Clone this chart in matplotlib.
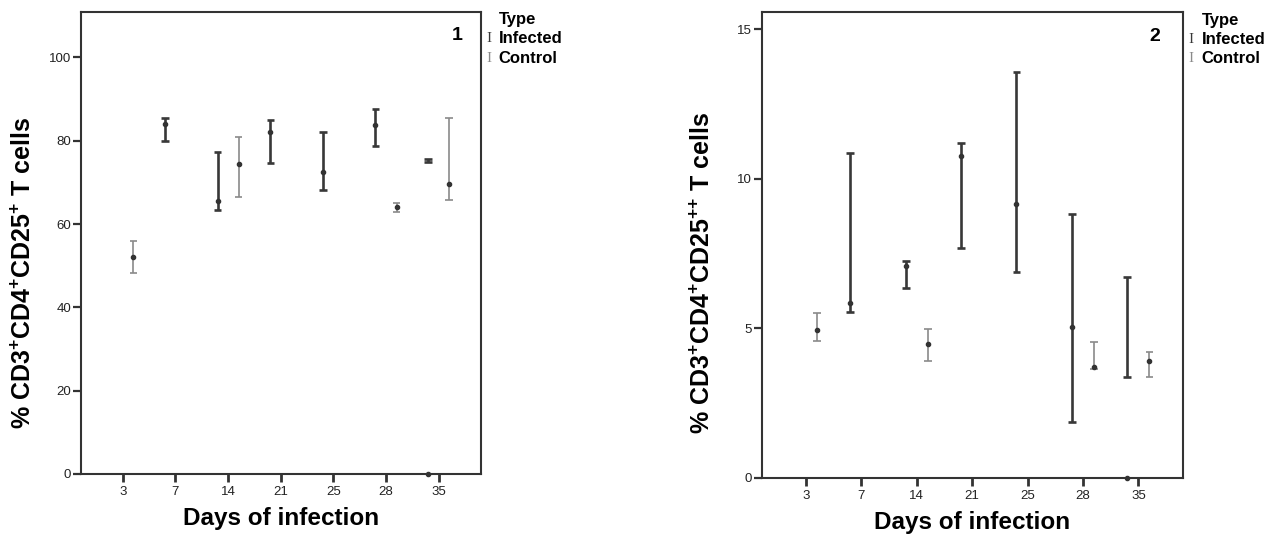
import matplotlib
matplotlib.use("Agg")
import matplotlib.pyplot as plt
import numpy as np

plt.rcParams['mathtext.fontset'] = 'custom'
plt.rcParams['mathtext.rm'] = 'Liberation Sans'
plt.rcParams['mathtext.bf'] = 'Liberation Sans:bold'
plt.rcParams['font.family'] = ['Liberation Sans', 'DejaVu Sans']

days = ['3', '7', '14', '21', '25', '28', '35']

# Panel 1: CD3+CD4+CD25+ (%)  -- None = no group
p1_inf_mean = [None, 84.0, 65.5, 82.0, 72.4, 83.8, 0.0]
p1_inf_low  = [None, 80.0, 63.3, 74.7, 68.1, 78.8, 74.9]
p1_inf_high = [None, 85.5, 77.3, 85.0, 82.1, 87.5, 75.5]
p1_con_mean = [52.2, None, 74.4, None, None, 64.0, 69.6]
p1_con_low  = [48.2, None, 66.4, None, None, 62.8, 65.8]
p1_con_high = [56.0, None, 80.8, None, None, 65.0, 85.4]

# Panel 2: CD3+CD4+CD25++ (%)
p2_inf_mean = [None, 5.83, 7.08, 10.76, 9.14, 5.04, 0.0]
p2_inf_low  = [None, 5.54, 6.35, 7.68, 6.87, 1.86, 3.38]
p2_inf_high = [None, 10.84, 7.24, 11.20, 13.55, 8.80, 6.72]
p2_con_mean = [4.94, None, 4.48, None, None, 3.71, 3.89]
p2_con_low  = [4.58, None, 3.90, None, None, 3.62, 3.37]
p2_con_high = [5.52, None, 4.96, None, None, 4.53, 4.19]

legend_title = 'Type'
groups = ['Infected', 'Control']

INF_C = '#383838'
CON_C = '#8a8a8a'
AX_C = '#333333'

fig = plt.figure(figsize=(12.84, 5.34), dpi=100)
ax1 = fig.add_axes([0.0629, 0.1124, 0.3115, 0.8652])
ax2 = fig.add_axes([0.5932, 0.1054, 0.3279, 0.8716])


def draw(ax, inf, con, ylim, yticks, ylabel, tag, tagx, lab_xy):
    for (mean, lo, hi), off, col, lw in ((inf, -0.2, INF_C, 1.9), (con, 0.2, CON_C, 1.2)):
        for i, (m, l, h) in enumerate(zip(mean, lo, hi)):
            if m is None:
                continue
            x = i + 1 + off
            ax.vlines(x, l, h, color=col, lw=lw, zorder=3)
            ax.hlines([l, h], x - 0.07, x + 0.07, color=col, lw=lw, zorder=3)
            ax.plot([x], [m], 'o', ms=3.0, color='#333333', zorder=4, clip_on=False)
    ax.set_xlim(0.2, 7.8)
    ax.set_ylim(*ylim)
    ax.set_xticks(np.arange(1, len(days) + 1))
    ax.set_xticklabels(days)
    ax.set_yticks(yticks)
    ax.set_yticklabels([str(t) for t in yticks])
    for s in ax.spines.values():
        s.set_color(AX_C)
        s.set_linewidth(1.5)
    ax.tick_params(axis='x', direction='out', length=6, width=2, color=AX_C,
                   labelsize=9.5, labelcolor='#222222', pad=3)
    ax.tick_params(axis='y', direction='out', length=6, width=1.6, color=AX_C,
                   labelsize=9.5, labelcolor='#222222', pad=1)
    ax.set_xlabel('Days of infection', fontsize=17.5, fontweight='bold', labelpad=6)
    ax.set_ylabel(ylabel, fontsize=18, fontweight='bold')
    ax.yaxis.set_label_coords(*lab_xy)
    ax.text(tagx, 0.948, tag, transform=ax.transAxes, ha='center', va='center',
            fontsize=14, fontweight='bold')
    # legend
    fam = ['Liberation Sans Narrow', 'Liberation Sans']
    ax.text(1.045, 0.983, legend_title, transform=ax.transAxes, ha='left', va='center',
            fontsize=12, fontweight='bold', family=fam)
    for k, (g, col) in enumerate(zip(groups, (INF_C, CON_C))):
        yy = 0.942 - k * 0.042
        ax.text(1.045, yy, g, transform=ax.transAxes, ha='left', va='center',
                fontsize=12, fontweight='bold', family=fam)
        ax.text(1.02, yy, 'I', transform=ax.transAxes, ha='center', va='center',
                fontsize=11, color=col, family=['Liberation Serif', 'DejaVu Serif'])


draw(ax1, (p1_inf_mean, p1_inf_low, p1_inf_high), (p1_con_mean, p1_con_low, p1_con_high),
     (0, 110.9), [0, 20, 40, 60, 80, 100],
     r'% CD3$^{\mathbf{+}}$CD4$^{\mathbf{+}}$CD25$^{\mathbf{+}}$ T cells', '1',
     0.941, (-0.1115, 0.435))
draw(ax2, (p2_inf_mean, p2_inf_low, p2_inf_high), (p2_con_mean, p2_con_low, p2_con_high),
     (0, 15.56), [0, 5, 10, 15],
     r'% CD3$^{\mathbf{+}}$CD4$^{\mathbf{+}}$CD25$^{\mathbf{{+}{+}}}$ T cells', '2',
     0.934, (-0.111, 0.44))

fig.savefig('out.png', dpi=100)
